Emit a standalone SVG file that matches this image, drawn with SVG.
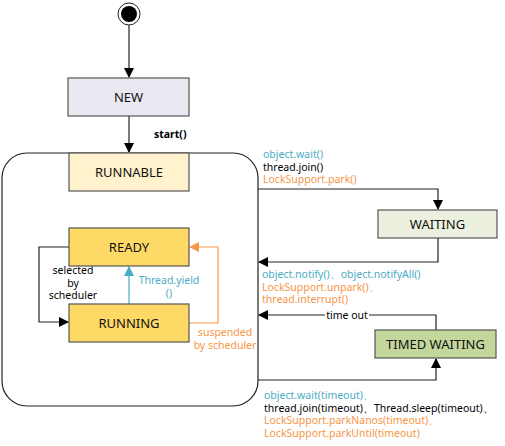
<svg xmlns="http://www.w3.org/2000/svg" width="505" height="446" viewBox="0 0 505 446">
<style>
text{font-family:"Noto Sans","Open Sans","DejaVu Sans",sans-serif}
.box{stroke:#555;stroke-width:1.2}
.nt{font-size:13px;fill:#111;text-anchor:middle}
.lb{font-size:10.5px}
.bl{fill:#4BACC6}.bk{fill:#000}.or{fill:#F79646}
.ln{fill:none;stroke:#222;stroke-width:1.2}
</style>
<defs>
<marker id="ah" markerWidth="10" markerHeight="10" refX="9" refY="5" orient="auto" markerUnits="userSpaceOnUse"><path d="M0,0 L10,5 L0,10 Z" fill="#000"/></marker>
<marker id="ab" markerWidth="10" markerHeight="10" refX="9" refY="5" orient="auto" markerUnits="userSpaceOnUse"><path d="M0,0 L10,5 L0,10 Z" fill="#4BACC6"/></marker>
<marker id="ao" markerWidth="10" markerHeight="10" refX="9" refY="5" orient="auto" markerUnits="userSpaceOnUse"><path d="M0,0 L10,5 L0,10 Z" fill="#F79646"/></marker>
</defs>
<rect width="505" height="446" fill="#fff"/>
<g id="runnable-container"><rect x="2" y="153" width="256" height="253" rx="25" fill="none" stroke="#222" stroke-width="1.2"/></g>
<g id="connectors">
<path class="ln" d="M129,25 L129,77" marker-end="url(#ah)"/>
<path class="ln" d="M129,116 L129,152" marker-end="url(#ah)"/>
<text x="154" y="138" class="lb bk" font-weight="bold">start()</text>
<path class="ln" d="M258,189 L438,189 L438,209" marker-end="url(#ah)"/>
<text class="lb" x="263" y="158"><tspan class="bl">object.wait()</tspan><tspan class="bk" x="263" dy="12.5">thread.join()</tspan><tspan class="or" x="263" dy="12.5">LockSupport.park()</tspan></text>
<path class="ln" d="M438,238 L438,262 L259,262" marker-end="url(#ah)"/>
<text class="lb" x="262" y="278"><tspan class="bl">object.notify()、object.notifyAll()</tspan><tspan class="or" x="262" dy="12.5">LockSupport.unpark()、</tspan><tspan class="or" x="262" dy="12.5">thread.interrupt()</tspan></text>
<path class="ln" d="M436,330 L436,315 L259,315" marker-end="url(#ah)"/>
<rect x="325" y="309" width="44" height="12" fill="#fff"/>
<text class="lb bk" x="347" y="319" text-anchor="middle">time out</text>
<path class="ln" d="M258,380 L436,380 L436,359" marker-end="url(#ah)"/>
<text class="lb" x="264" y="399"><tspan class="bl">object.wait(timeout)、</tspan><tspan class="bk" x="264" dy="12.5">thread.join(timeout)、Thread.sleep(timeout)、</tspan><tspan class="or" x="264" dy="12.5">LockSupport.parkNanos(timeout)、</tspan><tspan class="or" x="264" dy="12.5">LockSupport.parkUntil(timeout)</tspan></text>
<path class="ln" d="M69,247 L39,247 L39,322 L68,322" marker-end="url(#ah)"/>
<text class="lb bk" text-anchor="middle" x="73" y="274"><tspan>selected</tspan><tspan x="73" dy="12.5">by</tspan><tspan x="73" dy="12.5">scheduler</tspan></text>
<path d="M129,304 L129,267" fill="none" stroke="#4BACC6" stroke-width="1.2" marker-end="url(#ab)"/>
<text class="lb bl" text-anchor="middle" x="169" y="284"><tspan>Thread.yield</tspan><tspan x="169" dy="12.5">()</tspan></text>
<path d="M189,323 L218,323 L218,247 L190,247" fill="none" stroke="#F79646" stroke-width="1.2" marker-end="url(#ao)"/>
<text class="lb or" text-anchor="middle" x="225" y="336"><tspan>suspended</tspan><tspan x="225" dy="13">by scheduler</tspan></text>
</g>
<g id="start"><circle cx="129" cy="14" r="11" fill="#fff" stroke="#222" stroke-width="1"/><circle cx="129" cy="14" r="8" fill="#000"/></g>
<g id="new"><rect class="box" x="68" y="78" width="121" height="38" fill="#EAE8F0"/><text class="nt" x="128.5" y="102">NEW</text></g>
<g id="runnable"><rect class="box" x="69" y="153" width="120" height="38" fill="#FFF2CC"/><text class="nt" x="129" y="177">RUNNABLE</text></g>
<g id="ready"><rect class="box" x="69" y="228" width="120" height="38" fill="#FFD966"/><text class="nt" x="129" y="252">READY</text></g>
<g id="running"><rect class="box" x="69" y="304" width="120" height="38" fill="#FFD966"/><text class="nt" x="129" y="328">RUNNING</text></g>
<g id="waiting"><rect class="box" x="378" y="210" width="119" height="28" fill="#EBF1DE"/><text class="nt" x="437.5" y="229">WAITING</text></g>
<g id="timed-waiting"><rect class="box" x="375" y="330" width="121" height="28" fill="#C3D69B"/><text class="nt" x="435.5" y="349">TIMED WAITING</text></g>
</svg>
